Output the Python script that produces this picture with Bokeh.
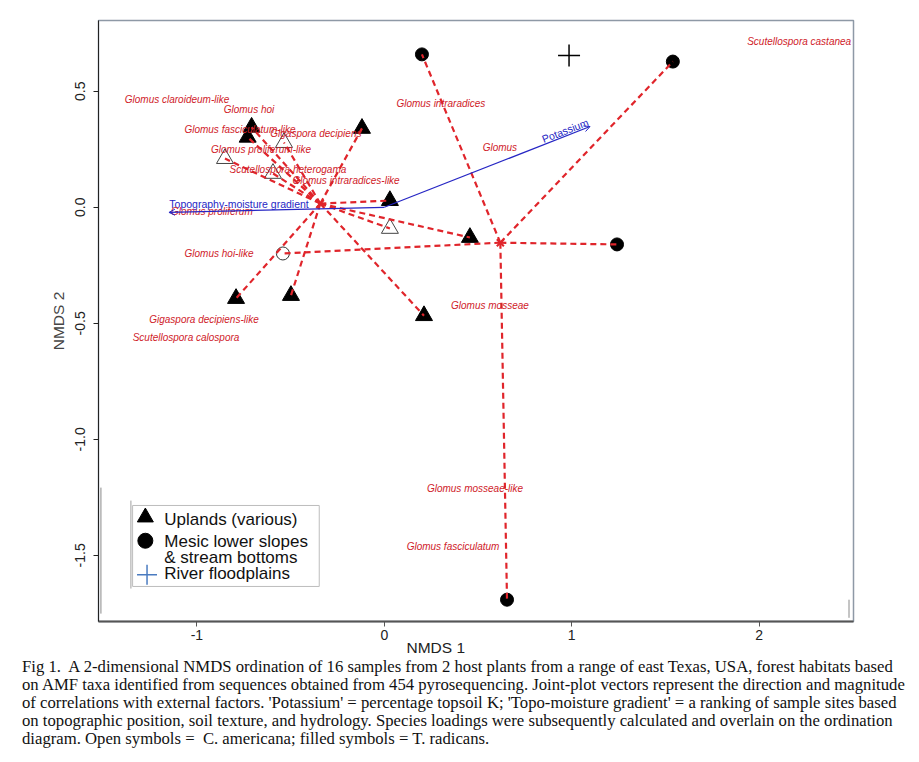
import numpy as np
from bokeh.plotting import figure
from bokeh.models import Arrow, OpenHead, FixedTicker, Div, Range1d, Title
from bokeh.layouts import column
from bokeh.core.properties import value
from bokeh.embed import file_html
from bokeh.resources import INLINE

# ---------------- data ----------------
# NMDS site scores (as drawn)
site_x = [-0.708, -0.729, -0.119, 0.030, 0.457, 0.212, -0.791, -0.498,
          -0.850, -0.535, -0.594, 0.030,
          0.201, 1.540, 1.242, 0.655,
          -0.541,
          0.986]
site_y = [0.345, 0.302, 0.340, 0.029, -0.130, -0.467, -0.393, -0.380,
          0.210, 0.279, 0.146, -0.091,
          0.659, 0.628, -0.160, -1.691,
          -0.199,
          0.654]
site_habitat = ["Uplands"] * 12 + ["Mesic"] * 5 + ["River"]
site_host = (["T. radicans"] * 8 + ["C. americana"] * 4 +
             ["T. radicans"] * 4 + ["C. americana"] + ["T. radicans"])

# species loadings (label positions)
species = ["Scutellospora castanea", "Glomus claroideum-like", "Glomus hoi",
           "Glomus fasciculatum-like", "Gigaspora decipiens", "Glomus proliferum-like",
           "Scutellospora heterogama", "Glomus intraradices-like", "Glomus proliferum",
           "Glomus intraradices", "Glomus", "Glomus hoi-like", "Gigaspora decipiens-like",
           "Scutellospora calospora", "Glomus mosseae", "Glomus mosseae-like",
           "Glomus fasciculatum"]
species_x = [2.214, -1.106, -0.722, -0.770, -0.365, -0.658, -0.514, -0.204, -0.920,
             0.302, 0.617, -0.882, -0.962, -1.058, 0.564, 0.484, 0.367]
species_y = [0.715, 0.465, 0.422, 0.335, 0.318, 0.249, 0.163, 0.116, -0.018,
             0.447, 0.258, -0.199, -0.483, -0.561, -0.423, -1.212, -1.462]

# joint-plot vectors
env_names = ["Potassium", "Topography-moisture gradient"]
env_x = [1.098, -1.149]
env_y = [0.348, -0.022]
env_label_x = [0.965, -0.775]
env_label_y = [0.331, 0.016]
env_label_angle = [0.37, 0.0]

x_ticks = [-1, 0, 1, 2]
x_tick_labels = ["-1", "0", "1", "2"]
y_ticks = [-1.5, -1.0, -0.5, 0.0, 0.5]
y_tick_labels = ["-1.5", "-1.0", "-0.5", "0.0", "0.5"]

legend_labels = ["Uplands (various)", "Mesic lower slopes", "& stream bottoms", "River floodplains"]

caption_lines = [
    "Fig 1.&nbsp; A 2-dimensional NMDS ordination of 16 samples from 2 host plants from a range of east Texas, USA, forest habitats based",
    "on AMF taxa identified from sequences obtained from 454 pyrosequencing. Joint-plot vectors represent the direction and magnitude",
    "of correlations with external factors. 'Potassium' = percentage topsoil K; 'Topo-moisture gradient' = a ranking of sample sites based",
    "on topographic position, soil texture, and hydrology. Species loadings were subsequently calculated and overlain on the ordination",
    "diagram. Open symbols = &nbsp;C. americana; filled symbols = T. radicans.",
]

RED_LINE = "#e0252b"
RED_TEXT = "#cf2129"
BLUE = "#2626c4"
FONT = value("Liberation Sans")

# ---------------- figure ----------------
p = figure(frame_width=755, frame_height=601,
           x_range=Range1d(-1.525, 2.504), y_range=Range1d(-1.785, 0.805),
           output_backend="svg", toolbar_location=None,
           min_border_left=98, min_border_top=20, min_border_right=20, min_border_bottom=35,
           background_fill_color="white", border_fill_color="white")
p.grid.visible = False
p.outline_line_color = "#8e99a6"
p.outline_line_width = 1.5

sx = np.array(site_x)
sy = np.array(site_y)
hab = np.array(site_habitat)
host = np.array(site_host)

m_up_f = (hab == "Uplands") & (host == "T. radicans")
m_up_o = (hab == "Uplands") & (host == "C. americana")
m_me_f = (hab == "Mesic") & (host == "T. radicans")
m_me_o = (hab == "Mesic") & (host == "C. americana")
m_riv = hab == "River"

p.scatter(sx[m_up_f], sy[m_up_f], marker="triangle", size=17, fill_color="black", line_color="black")
p.scatter(sx[m_up_o], sy[m_up_o], marker="triangle", size=17, fill_color=None, line_color="#444444", line_width=1)
p.scatter(sx[m_me_f], sy[m_me_f], marker="circle", size=13, fill_color="black", line_color="black")
p.scatter(sx[m_me_o], sy[m_me_o], marker="circle", size=13, fill_color=None, line_color="#333333", line_width=1)
p.scatter(sx[m_riv], sy[m_riv], marker="cross", size=22, line_color="black", line_width=1.5)

# spider lines to group centroids
x0, y0, x1, y1, cxs, cys = [], [], [], [], [], []
for h in ["Uplands", "Mesic"]:
    m = hab == h
    cx, cy = sx[m].mean(), sy[m].mean()
    cxs.append(cx)
    cys.append(cy)
    for a, b in zip(sx[m], sy[m]):
        x0.append(cx); y0.append(cy); x1.append(a); y1.append(b)
p.segment(x0, y0, x1, y1, line_color=RED_LINE, line_width=2.2, line_dash="6 4")
p.scatter(cxs, cys, marker="x", size=10, line_color=RED_LINE, line_width=2)

# joint-plot vectors
for ex, ey in zip(env_x, env_y):
    p.add_layout(Arrow(end=OpenHead(size=6, line_color=BLUE, line_width=1),
                       x_start=0, y_start=0, x_end=ex, y_end=ey,
                       line_color=BLUE, line_width=1.2))
p.text(env_label_x, env_label_y, text=env_names, angle=env_label_angle,
       text_font=FONT, text_font_size="10.5px", text_color=BLUE,
       text_align="center", text_baseline="middle")

# species labels
p.text(species_x, species_y, text=species, text_font=FONT, text_font_style="italic",
       text_font_size="10px", text_color=RED_TEXT, text_align="center", text_baseline="middle")

# legend (drawn manually)
p.quad(left=[-1.343], right=[-0.347], top=[-1.285], bottom=[-1.634],
       fill_color="white", line_color="#bdbdbd", line_width=1)
p.segment([-1.352], [-1.264], [-1.352], [-1.643], line_color="#a0a0a0", line_width=1)
p.scatter([-1.275], [-1.336], marker="triangle", size=16, fill_color="black", line_color="black")
p.scatter([-1.275], [-1.437], marker="circle", size=15, fill_color="black", line_color="black")
p.scatter([-1.266], [-1.584], marker="cross", size=20, line_color="#4a7bc0", line_width=1.5)
p.text([-1.174] * 4, [-1.347, -1.439, -1.508, -1.580], text=legend_labels,
       text_font=FONT, text_font_size="17px", text_color="#111111",
       text_align="left", text_baseline="middle")

# scan artefacts near the frame
p.segment([-1.512, 2.480], [-1.208, -1.691], [-1.512, 2.480], [-1.751, -1.769],
          line_color="#8a8a8a", line_width=1)

# axes
p.xaxis.ticker = FixedTicker(ticks=x_ticks)
p.xaxis.major_label_overrides = {t: l for t, l in zip(x_ticks, x_tick_labels)}
p.yaxis.ticker = FixedTicker(ticks=y_ticks)
p.yaxis.major_label_overrides = {t: l for t, l in zip(y_ticks, y_tick_labels)}
for ax in (p.xaxis, p.yaxis):
    ax.minor_tick_line_color = None
    ax.major_tick_in = 0
    ax.major_tick_out = 5
    ax.major_label_text_font = "Liberation Sans"
    ax.major_label_text_font_size = "14px"
    ax.major_label_text_color = "#222222"
p.xaxis.axis_line_color = "#555555"
p.xaxis.axis_line_width = 2
p.xaxis.major_tick_line_color = "#555555"
p.xaxis.major_label_standoff = 3
p.yaxis.axis_line_color = "#222222"
p.yaxis.major_tick_line_color = "#222222"
p.yaxis.major_label_orientation = "vertical"
p.yaxis.major_label_standoff = 8
p.yaxis.axis_label = "NMDS 2"
p.yaxis.axis_label_text_font = "Liberation Sans"
p.yaxis.axis_label_text_font_style = "normal"
p.yaxis.axis_label_text_font_size = "15.5px"
p.yaxis.axis_label_standoff = 6

p.add_layout(Title(text="NMDS 1", align="left", offset=308, standoff=-11,
                   text_font="Liberation Sans", text_font_size="15.5px",
                   text_font_style="normal", text_color="#222222"), "below")

div = Div(text="<br>".join(caption_lines), width=900, margin=(2, 0, 0, 22),
          styles={"font-family": "'Liberation Serif', 'Times New Roman', serif",
                  "font-size": "16.7px", "line-height": "18px", "white-space": "nowrap",
                  "color": "#111111"})

layout = column(p, div)
open("out.html", "w").write(file_html(layout, INLINE))
